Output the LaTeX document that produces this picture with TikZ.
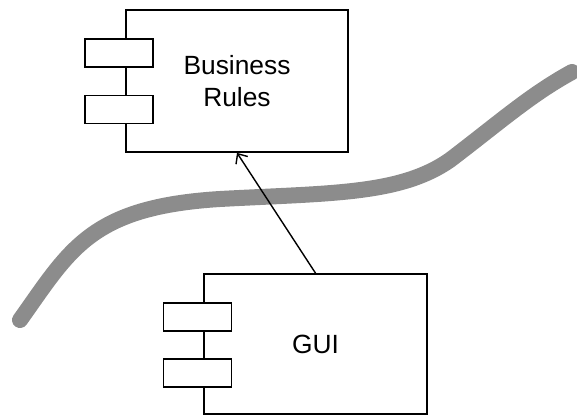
\documentclass[tikz,border=0pt]{standalone}
\usepackage{fontspec}
\setmainfont{Liberation Sans}
\usetikzlibrary{arrows.meta}

\begin{document}
\begin{tikzpicture}[x = 0.02cm, y = -0.02cm,
    comp/.style = {draw, line width=1pt, fill=white, align=center, inner sep=0pt,
                   font=\fontsize{15}{18}\selectfont},
    tab/.style = {draw, line width=1pt, fill=white, minimum width=1.36cm, minimum height=0.56cm},
    boundary/.style = {line width=0.32cm, color=black!45, line cap=round}]
    % Page frame
    \useasboundingbox (0,0) rectangle (577,418);

    % Boundary line
    \draw [boundary] (20,320) .. controls (70,250) and (90,207) .. (220,199)
        .. controls (330,193) and (400,195) .. (450,160)
        .. controls (500,122) and (530,95) .. (572,72);

    % Business rules component
    \node [comp, minimum width=4.44cm, minimum height=2.84cm] (rules) at (237,81) {Business\\Rules};
    \node [tab] (rulesA) at (119,53) {};
    \node [tab] (rulesB) at (119,109.5) {};

    % GUI component
    \node [comp, minimum width=4.46cm, minimum height=2.8cm] (gui) at (315.5,344) {GUI};
    \node [tab] (guiA) at (197.5,317) {};
    \node [tab] (guiB) at (197.5,373) {};

    % Dependency
    \draw [-{Straight Barb[length=4.5pt, width=8pt]}, line width=0.8pt] (gui.north) -- (rules.south);

\end{tikzpicture}
\end{document}
